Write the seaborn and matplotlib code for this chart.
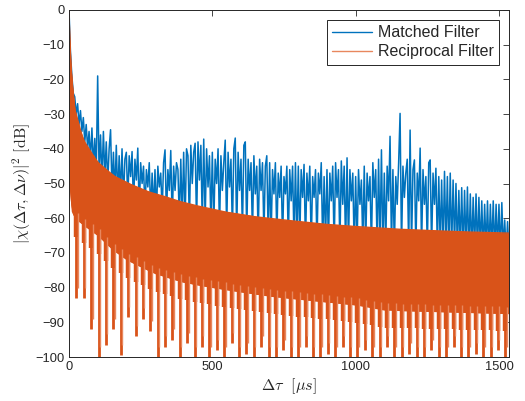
import numpy as np
import pandas as pd
import matplotlib
matplotlib.use("Agg")
import matplotlib.pyplot as plt
from matplotlib.lines import Line2D
import seaborn as sns

# matched filter response, one value every 5 us
blue_step = 5
blue_db = [
    0, -12, -19, -24, -25, -30, -27, -33, -29, -35, -31, -38, -33, -40, -35, -43, -34, -45, -37, -47,
    -19, -47, -36, -49, -35, -48, -38, -50, -40, -34.5, -52, -41, -53, -39, -54, -42, -53, -40, -55, -43,
    -41, -55, -42, -48, -40.8, -57, -43, -49, -39.8, -58, -44, -50, -45, -58, -46, -51, -44, -59, -47, -58,
    -46, -59, -45, -51, -47, -58, -44, -40.3, -60, -46, -52, -40.5, -61, -45, -52, -44, -46, -61, -43, -60,
    -41, -61, -40, -42, -62, -39, -50, -41, -38.4, -62, -38, -49, -39, -62, -37.2, -61, -40, -51, -42, -62,
    -41, -63, -43, -50, -40, -64, -42, -52, -44, -37.5, -64, -41, -51, -43, -64, -40, -36.9, -65, -41, -52,
    -43, -64, -39, -38, -65, -43, -52, -44, -65, -42, -53, -45, -66, -43, -52, -44, -65, -45, -42, -66,
    -44, -66, -46, -53, -44, -66, -47, -54, -45, -67, -48, -53, -45, -67, -46, -55, -45, -67, -44, -66,
    -45, -67, -46, -54, -44.5, -68, -47, -55, -45, -68, -48, -54, -46, -68, -47, -53, -44, -68, -48, -67,
    -46, -68, -47, -55, -45, -69, -44, -54, -46, -68, -43.5, -56, -45, -69, -42.6, -68, -46, -55, -47, -69,
    -48, -68, -46, -56, -49, -68, -45, -69, -47, -55, -48, -69, -44, -54, -46, -69, -43, -68, -40.3, -69,
    -47, -68, -45, -55, -36.4, -68, -46, -69, -48, -56, -44, -29.8, -69, -45, -54, -47, -43, -69, -34.6, -68,
    -46, -43.2, -69, -47, -55, -39.8, -69, -46, -56, -48, -69, -44, -43.2, -69, -47, -56, -45.6, -69, -48, -68,
    -49, -69, -46.5, -68, -48, -70, -47, -69, -49, -68, -50, -70, -52, -69, -51.2, -70, -52, -69, -51, -70,
    -53, -70, -54, -69, -53, -70, -54, -69, -55, -70, -56, -69, -55, -70, -56, -69, -55, -70, -56, -69,
    -56, -70, -55.5, -69, -60.5, -70, -61, -70,
]

# reciprocal filter: top edge of the dense orange band
recip_top_tau = [0, 2, 6, 12, 21, 35, 56, 80, 102, 130, 160, 219, 277, 335, 387, 450, 550,
                 650, 771, 900, 1000, 1155, 1300, 1400, 1535]
recip_top_db = [0, -8, -15, -22, -29, -34, -38.4, -41.5, -44, -46, -48, -50.4, -52.4, -53.8,
                -55.2, -56.5, -58.3, -59.6, -60.7, -61.8, -62.4, -63.2, -63.7, -64, -64.3]

# bottom of the solid part of the orange band
recip_floor_tau = [0, 8, 20, 50, 100, 150, 200, 300, 400, 500, 700, 1000, 1100, 1535]
recip_floor_db = [-50, -58, -60, -62, -65, -69, -72, -76, -78.5, -80, -82.5, -85, -86.5, -87.5]

# periodic nulls of the reciprocal filter
null_tau = [26, 52, 77, 103, 129, 155, 181, 206, 232, 258,
            284, 310, 335, 361, 387, 413, 439, 464, 490, 516,
            542, 568, 593, 619, 645, 671, 697, 722, 748, 774,
            800, 826, 851, 877, 903, 929, 955, 980, 1006, 1032,
            1058, 1084, 1109, 1135, 1161, 1187, 1213, 1238, 1264, 1290,
            1316, 1342, 1367, 1393, 1419, 1445, 1471, 1496, 1522]
null_db = [-83, -83, -92, -100, -96.5, -92, -99.5, -88.5, -94, -89,
           -92.5, -100, -97, -95, -100, -96, -100, -97, -100, -98,
           -100, -96, -100, -99, -100, -97, -100, -100, -98, -100,
           -100, -97, -100, -100, -99, -100, -97, -100, -100, -98,
           -100, -100, -97, -100, -100, -99, -100, -100, -98, -100,
           -100, -97, -100, -100, -99, -100, -100, -98, -100]

blue = "#0072BD"
orange = "#D95319"
orange_light = "#E8875E"

sns.set_style("white")
plt.rcParams["font.family"] = ["Liberation Sans", "DejaVu Sans"]
plt.rcParams["mathtext.fontset"] = "cm"

fig = plt.figure(figsize=(5.25, 4.01), dpi=100)
ax = fig.add_axes([69 / 525, 1 - 357 / 401, 440 / 525, 347 / 401])

df_mf = pd.DataFrame({"tau": np.arange(len(blue_db)) * blue_step, "db": blue_db})
sns.lineplot(data=df_mf, x="tau", y="db", color=blue, lw=1.1, estimator=None,
             sort=False, ax=ax, zorder=2)

# orange band
top_x = np.array(recip_top_tau)
ax.fill_between(top_x, recip_top_db, np.interp(top_x, recip_floor_tau, recip_floor_db),
                color=orange, lw=0, zorder=3)
fx = np.array(recip_floor_tau)
ax.fill_between(fx, np.interp(fx, recip_top_tau, recip_top_db), recip_floor_db,
                color=orange, lw=0, zorder=3)
sns.lineplot(x=recip_top_tau, y=recip_top_db, color=orange, lw=1.0, ax=ax, zorder=3)

# teeth below the solid band: wide near the top, thin down to the null
tooth_top = np.interp(null_tau, recip_floor_tau, recip_floor_db) + 2
ax.vlines(null_tau, tooth_top - 7, tooth_top, color=orange, lw=3.2, zorder=3)
ax.vlines(null_tau, null_db, tooth_top, color=orange, lw=2.0, zorder=3)
ax.vlines(np.array(null_tau) + 5, np.array(null_db) + 3, tooth_top, color=orange_light,
          lw=1.0, zorder=3)

ax.set_xlim(0, 1535)
ax.set_ylim(-100, 0)
ax.set_xticks([0, 500, 1000, 1500])
ax.set_yticks(np.arange(-100, 1, 10))
ax.tick_params(direction="in", length=4, width=0.6, colors="#262626",
               labelsize=9.3, top=True, right=True, pad=3)
for s in ax.spines.values():
    s.set_color("#262626")
    s.set_linewidth(0.7)
    s.set_zorder(5)

ax.set_xlabel(r"$\Delta\tau\ \ [\mu s]$", fontsize=11.5, color="#262626", labelpad=2)
ax.set_ylabel(r"$|\chi(\Delta\tau,\Delta\nu)|^2\ \mathrm{[dB]}$", fontsize=11.5,
              color="#262626", labelpad=2)

handles = [Line2D([], [], color=blue, lw=1.0), Line2D([], [], color=orange_light, lw=1.0)]
leg = ax.legend(handles, ["Matched Filter", "Reciprocal Filter"], loc="upper right",
                fontsize=11.5, handlelength=2.5, handletextpad=0.35, borderpad=0.35,
                labelspacing=0.25, borderaxespad=0.6, fancybox=False, framealpha=1)
leg.get_frame().set_edgecolor("#262626")
leg.get_frame().set_linewidth(0.7)
leg.set_zorder(6)

fig.savefig("out.png", dpi=100)
